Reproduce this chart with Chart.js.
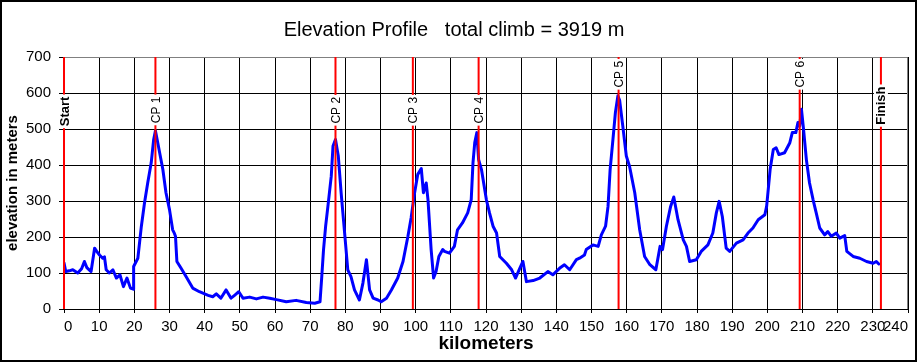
<!DOCTYPE html>
<html>
<head>
<meta charset="utf-8">
<title>Elevation Profile</title>
<script src="https://cdn.jsdelivr.net/npm/chart.js@4.4.1/dist/chart.umd.min.js"></script>
<style>
    html, body { margin: 0; padding: 0; background: #fff; }
    #wrap { width: 917px; height: 362px; }
</style>
</head>
<body>
<div id="wrap"><canvas id="elevationChart" width="917" height="362"></canvas></div>
<script>
// ========================================
// DATA
// ========================================

const kmValues = [
    0, 0.5, 1.5, 2.5, 3.9, 5, 5.8, 6.5, 7.7, 8.7, 9.3, 10.1, 11, 11.5, 12, 12.9, 13.9, 14.9, 15.9, 16.9,
    17.9, 18.9, 19.7, 19.8, 21, 22, 22.9, 23.8, 24.8, 25.5, 26, 26.5, 27.2, 28.1, 29, 30, 30.9, 31.4, 31.7, 32.1,
    33.3, 34.7, 36.6, 38.5, 39.5, 41, 42.3, 43.3, 44.6, 46.1, 47.5, 48.5, 49.7, 50.9, 52.8, 54.7, 56.6, 58.5, 60.4, 63.2,
    66, 68.9, 71.3, 72.8, 73.3, 73.8, 74.4, 75.1, 76, 76.5, 77.2, 78, 78.8, 79.8, 80.7, 81.6, 82.6, 84, 85, 86,
    86.9, 87.9, 89.3, 90.2, 91.7, 93.1, 94.9, 96.4, 97.8, 98.7, 99.7, 100.6, 101.6, 102.2, 103, 103.5, 104.4, 105.1, 105.8, 106.6,
    107.7, 108.2, 109.6, 111, 111.9, 113.3, 114.8, 115.8, 116.3, 116.8, 117.4, 117.9, 118.7, 120.1, 121, 122, 123, 123.9, 125.8, 127.3,
    128.4, 129.6, 130.5, 131.5, 133.4, 135.3, 137.6, 139, 140.9, 142.3, 143.8, 145.7, 146.6, 148, 148.5, 150.4, 151.9, 152.8, 154, 154.7,
    155.3, 156.1, 156.8, 157.5, 158, 158.9, 159.9, 160.8, 162.3, 163.7, 165.1, 166.6, 168.3, 169.5, 170.2, 171.3, 172.5, 173.4, 174.6, 176.1,
    177, 177.9, 179.8, 181.2, 183.1, 184.5, 185.5, 186.3, 187.2, 188.3, 189.3, 191.2, 193.1, 194.5, 195.9, 197.4, 199.3, 199.8, 200.8, 201.7,
    202.5, 203.3, 204.9, 206.4, 207.1, 208.1, 208.7, 209.2, 209.7, 210.3, 211.1, 212, 213, 213.9, 214.9, 216.3, 217.2, 218.2, 219.6, 220.6,
    222, 222.6, 224.4, 226.3, 228.2, 230.1, 231, 231.7
];

const elevationValues = [
    128, 104, 106, 109, 100, 112, 132, 115, 104, 169, 160, 150, 141, 145, 109, 100, 109, 86, 95, 62,
    86, 58, 55, 118, 141, 230, 295, 350, 406, 471, 495, 470, 434, 388, 323, 276, 220, 210, 202, 132,
    113, 90, 58, 48, 44, 38, 34, 42, 30, 53, 30, 38, 48, 30, 33, 28, 33, 30, 26, 20,
    24, 18, 16, 20, 90, 165, 230, 290, 369, 453, 471, 425, 323, 211, 109, 90, 53, 25, 72, 137,
    53, 30, 25, 20, 30, 53, 86, 132, 202, 253, 323, 374, 390, 323, 350, 304, 165, 86, 104, 146,
    165, 160, 155, 174, 220, 239, 267, 304, 406, 462, 490, 415, 388, 304, 267, 230, 211, 146, 127, 109,
    86, 113, 132, 76, 79, 86, 104, 95, 113, 123, 109, 137, 141, 150, 165, 178, 174, 206, 230, 285,
    388, 471, 546, 592, 580, 508, 425, 397, 323, 220, 146, 123, 109, 174, 165, 230, 285, 311, 248, 192,
    174, 132, 137, 160, 178, 211, 267, 299, 257, 169, 160, 183, 192, 211, 225, 248, 262, 285, 388, 443,
    448, 429, 434, 462, 490, 490, 518, 508, 555, 499, 415, 350, 304, 267, 225, 206, 215, 202, 211, 197,
    204, 160, 146, 141, 132, 127, 132, 125
];

const markerNames = ['Start', 'CP 1', 'CP 2', 'CP 3', 'CP 4', 'CP 5', 'CP 6', 'Finish'];
const markerKm = [0, 26, 77.2, 99.2, 117.9, 157.7, 209.2, 232.3];
const markerLabelElevation = [549, 553, 552, 552, 552, 652, 652, 565];

const kmTicks = [0, 10, 20, 30, 40, 50, 60, 70, 80, 90, 100, 110, 120, 130, 140, 150, 160, 170, 180, 190, 200, 210, 220, 230, 240];
const elevationTicks = [0, 100, 200, 300, 400, 500, 600, 700];

const FONT = 'Arial, "Liberation Sans", sans-serif';

// ========================================
// PLUGINS
// ========================================

// gray frame on top / right of the plot, black frame round the picture
const framePlugin = {
    id: 'frames',
    beforeDatasetsDraw(chart) {
        const { ctx, chartArea: a } = chart;
        ctx.save();
        ctx.strokeStyle = '#808080';
        ctx.lineWidth = 1;
        ctx.beginPath();
        ctx.moveTo(a.left, a.top + 0.5);
        ctx.lineTo(a.right - 0.5, a.top + 0.5);
        ctx.lineTo(a.right - 0.5, a.bottom);
        ctx.stroke();
        ctx.restore();
    },
    afterDraw(chart) {
        const ctx = chart.ctx;
        ctx.save();
        ctx.strokeStyle = '#000';
        ctx.lineWidth = 2;
        ctx.strokeRect(1, 1, chart.width - 2, chart.height - 2);
        ctx.restore();
    }
};

// rotated checkpoint names on white boxes
const markerLabelPlugin = {
    id: 'markerLabels',
    afterDatasetsDraw(chart) {
        const ctx = chart.ctx;
        const xScale = chart.scales.x;
        const yScale = chart.scales.y;
        markerNames.forEach((name, i) => {
            const x = xScale.getPixelForValue(markerKm[i]);
            const y = yScale.getPixelForValue(markerLabelElevation[i]);
            const bold = name === 'Start' || name === 'Finish';
            ctx.save();
            ctx.font = (bold ? 'bold 13px ' : '12px ') + FONT;
            const w = ctx.measureText(name).width;
            ctx.translate(x, y);
            ctx.rotate(-Math.PI / 2);
            ctx.fillStyle = '#fff';
            ctx.fillRect(-w / 2 - 2, -7, w + 4, 14);
            ctx.fillStyle = '#000';
            ctx.textAlign = 'center';
            ctx.textBaseline = 'middle';
            ctx.fillText(name, 0, 1);
            ctx.restore();
        });
    }
};

// ========================================
// CHART
// ========================================

function buildProfile() {
    return kmValues.map((km, i) => ({ x: km, y: elevationValues[i] }));
}

function buildMarkerLines() {
    const pts = [];
    markerKm.forEach(km => {
        pts.push({ x: km, y: 0 });
        pts.push({ x: km, y: 700 });
        pts.push({ x: km, y: null });
    });
    return pts;
}

function renderElevationChart() {
    const ctx = document.getElementById('elevationChart');

    new Chart(ctx, {
        type: 'line',
        data: {
            datasets: [
                {
                    label: 'checkpoints',
                    data: buildMarkerLines(),
                    borderColor: '#FF0000',
                    borderWidth: 2,
                    pointRadius: 0,
                    spanGaps: false,
                    clip: false,
                    order: 1
                },
                {
                    label: 'elevation',
                    data: buildProfile(),
                    borderColor: '#0000FF',
                    borderWidth: 3,
                    borderJoinStyle: 'round',
                    borderCapStyle: 'round',
                    pointRadius: 0,
                    tension: 0,
                    order: 2
                }
            ]
        },
        options: {
            responsive: false,
            animation: false,
            devicePixelRatio: 1,
            layout: { padding: { left: 0, right: 9, top: 0, bottom: 0 } },
            plugins: {
                legend: { display: false },
                tooltip: { enabled: false },
                title: {
                    display: true,
                    text: 'Elevation Profile   total climb = 3919 m',
                    color: '#000',
                    font: { family: FONT, size: 20, weight: 'normal' },
                    padding: { top: 18, bottom: 15 }
                }
            },
            scales: {
                x: {
                    type: 'linear',
                    min: 0,
                    max: 240,
                    afterBuildTicks: scale => { scale.ticks = kmTicks.map(v => ({ value: v })); },
                    afterFit: scale => { scale.height = 53; scale.paddingLeft = 0; scale.paddingRight = 0; },
                    ticks: {
                        color: '#000',
                        font: { family: FONT, size: 15 },
                        padding: 5,
                        maxRotation: 0,
                        autoSkip: false,
                        align: 'inner'
                    },
                    grid: { color: '#000', lineWidth: 1, tickLength: 4 },
                    border: { color: '#000', width: 1 },
                    title: {
                        display: true,
                        text: 'kilometers',
                        color: '#000',
                        font: { family: FONT, size: 19, weight: 'bold' },
                        padding: { top: 0, bottom: 7 }
                    }
                },
                y: {
                    min: 0,
                    max: 700,
                    afterBuildTicks: scale => { scale.ticks = elevationTicks.map(v => ({ value: v })); },
                    afterFit: scale => { scale.width = 64; scale.paddingTop = 0; scale.paddingBottom = 0; },
                    ticks: {
                        color: '#000',
                        font: { family: FONT, size: 15 },
                        padding: 8
                    },
                    grid: { color: '#000', lineWidth: 1, tickLength: 5 },
                    border: { color: '#000', width: 1 },
                    title: {
                        display: true,
                        text: 'elevation in meters',
                        color: '#000',
                        font: { family: FONT, size: 15, weight: 'bold' },
                        padding: { top: 4, bottom: 0 }
                    }
                }
            }
        },
        plugins: [framePlugin, markerLabelPlugin]
    });
}

renderElevationChart();
</script>
</body>
</html>
